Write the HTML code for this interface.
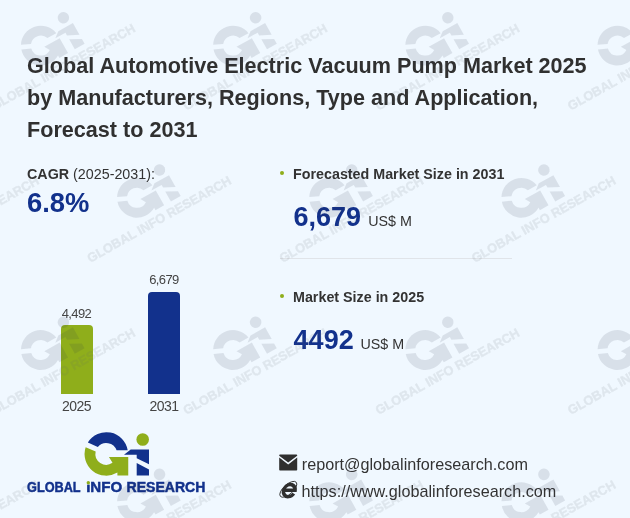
<!DOCTYPE html>
<html><head><meta charset="utf-8">
<style>
html,body{margin:0;padding:0}
body{width:630px;height:518px;overflow:hidden;background:#f0f8ff;font-family:"Liberation Sans",Arial,sans-serif;position:relative;color:#333}
.abs{position:absolute;white-space:nowrap}
#title{left:27px;top:50px;font-size:21.6px;font-weight:bold;line-height:32.2px;color:#303030}
.lbl{font-size:14.3px;color:#333}
.big{font-size:27px;font-weight:bold;color:#12318c}
.unit{font-size:14.3px;color:#333}
.bullet{width:4.4px;height:4.4px;border-radius:50%;background:#8fae1b}
.ct{font-size:16.2px;color:#333}
.bar{position:absolute;border-radius:4px 4px 0 0}
.bl{font-size:13px;color:#444;text-align:center;width:60px;letter-spacing:-0.6px}
svg{position:absolute;left:0;top:0}
#logo .b{fill:#12318c} #logo .g{fill:#8fae1b}
.wmk path,.wmk circle{fill:#28304a} .wmk text{fill:#5c646b;stroke:#5c646b;stroke-width:0.5px}
</style></head><body>
<div id="title" class="abs">Global Automotive Electric Vacuum Pump Market 2025<br>by Manufacturers, Regions, Type and Application,<br>Forecast to 2031</div>

<div id="cagr" class="abs lbl" style="left:27px;top:166px"><b>CAGR</b> (2025-2031):</div>
<div id="cagrv" class="abs big" style="left:27px;top:187px;font-size:27.4px">6.8%</div>

<div class="abs bullet" style="left:279.5px;top:170.6px"></div>
<div id="f1" class="abs lbl" style="left:293px;top:166px"><b>Forecasted Market Size in 2031</b></div>
<div id="v1" class="abs big" style="left:293.4px;top:202.2px">6,679</div>
<div id="u1" class="abs unit" style="left:368.2px;top:213px">US$ M</div>
<div id="hr" class="abs" style="left:280px;top:258px;width:232px;height:1px;background:#e0e4e9"></div>

<div class="abs bullet" style="left:279.5px;top:293.6px"></div>
<div id="f2" class="abs lbl" style="left:293px;top:289px"><b>Market Size in 2025</b></div>
<div id="v2" class="abs big" style="left:293.6px;top:324.6px">4492</div>
<div id="u2" class="abs unit" style="left:360.5px;top:336px">US$ M</div>

<div id="bar1" class="bar" style="left:60.5px;top:325px;width:32px;height:69px;background:#8fae1b"></div>
<div id="bar2" class="bar" style="left:148px;top:291.5px;width:32.4px;height:102.5px;background:#12318c"></div>
<div id="bl1" class="abs bl" style="left:46.5px;top:306px">4,492</div>
<div id="bl2" class="abs bl" style="left:134px;top:272px">6,679</div>
<div id="bx1" class="abs bl" style="left:46.5px;top:398px;font-size:14px;letter-spacing:-0.55px">2025</div>
<div id="bx2" class="abs bl" style="left:134px;top:398px;font-size:14px;letter-spacing:-0.55px">2031</div>

<svg id="logo" width="630" height="518" viewBox="0 0 630 518">
<g transform="translate(80,428)">
<path class="b" d="M7.84,14.5 A21.7,21.7 0 0 1 47.7,22.3 L36.6,22.3 A10.9,10.9 0 0 0 17.81,19.07 Z"/>
<path class="g" d="M5.65,19.23 A21.7,21.7 0 0 0 37.4,44.6 L37.4,47.6 L48.25,47.6 L48.25,28.95 L28.95,28.95 L32.5,34.86 A10.9,10.9 0 0 1 15.65,23.56 Z"/>
<path class="b" d="M50.7,21.5 L69,21.5 L69,36.2 L56.7,30.2 L56.7,26.8 L44,26.8 Z"/>
<path class="b" d="M56.7,35 L69,41.6 L69,47.6 L56.7,47.6 Z"/>
<circle class="g" cx="62.7" cy="11.5" r="6.3"/>
</g>

<g fill="#2f2f2f">
<path d="M280,454.4 h16.4 a0.8,0.8 0 0 1 0.8,0.8 v0.5 l-9,6.9 l-9,-6.9 v-0.5 a0.8,0.8 0 0 1 0.8,-0.8 Z"/>
<path d="M279.2,457.6 l9,6.9 l9,-6.9 v12.2 a0.8,0.8 0 0 1 -0.8,0.8 h-16.4 a0.8,0.8 0 0 1 -0.8,-0.8 Z"/>
</g>
<g transform="translate(289.4,489.9) skewX(-9)" fill="none" stroke="#2f2f2f">
<path d="M5.0,3.8 A5.8,6.1 0 1 1 5.8,0.4 L-5.2,0.4" stroke-width="3.4"/>
</g>
<ellipse cx="288.3" cy="489.3" rx="10.6" ry="4.8" transform="rotate(-42 288.3 489.3)" fill="none" stroke="#2f2f2f" stroke-width="0.9"/>
<text y="491.6" font-size="14" font-weight="bold" fill="#12318c" stroke="#12318c" stroke-width="0.45"><tspan x="27" textLength="53.4" lengthAdjust="spacingAndGlyphs">GLOBAL</tspan> <tspan x="86.2" textLength="36" lengthAdjust="spacingAndGlyphs">INFO</tspan> <tspan x="126.6" textLength="78.8" lengthAdjust="spacingAndGlyphs">RESEARCH</tspan></text>
<rect x="85.5" y="480" width="5.5" height="4.6" fill="#f0f8ff"/><circle cx="88.3" cy="482.7" r="1.7" fill="#8fae1b"/>
</svg>

<div id="c1" class="abs ct" style="left:301.8px;top:455.3px">report@globalinforesearch.com</div>
<div id="c2" class="abs ct" style="left:301.6px;top:482.3px">https://www.globalinforesearch.com</div>

<svg id="wm" width="630" height="518" viewBox="0 0 630 518" style="opacity:0.115">
<g class="wmk" transform="translate(-199.4,108.3) rotate(-29.3) scale(0.915)"><g transform="translate(53,-60)"><path class="b" d="M7.84,14.5 A21.7,21.7 0 0 1 47.7,22.3 L36.6,22.3 A10.9,10.9 0 0 0 17.81,19.07 Z"/><path class="g" d="M5.65,19.23 A21.7,21.7 0 0 0 37.4,44.6 L37.4,47.6 L48.25,47.6 L48.25,28.95 L28.95,28.95 L32.5,34.86 A10.9,10.9 0 0 1 15.65,23.56 Z"/><path class="b" d="M50.7,21.5 L69,21.5 L69,36.2 L56.7,30.2 L56.7,26.8 L44,26.8 Z"/><path class="b" d="M56.7,35 L69,41.6 L69,47.6 L56.7,47.6 Z"/><circle class="g" cx="62.7" cy="11.5" r="6.3"/></g><text x="0" y="3" font-size="14" font-weight="bold" textLength="178" lengthAdjust="spacingAndGlyphs">GLOBAL INFO RESEARCH</text></g>
<g class="wmk" transform="translate(-7.2,108.3) rotate(-29.3) scale(0.915)"><g transform="translate(53,-60)"><path class="b" d="M7.84,14.5 A21.7,21.7 0 0 1 47.7,22.3 L36.6,22.3 A10.9,10.9 0 0 0 17.81,19.07 Z"/><path class="g" d="M5.65,19.23 A21.7,21.7 0 0 0 37.4,44.6 L37.4,47.6 L48.25,47.6 L48.25,28.95 L28.95,28.95 L32.5,34.86 A10.9,10.9 0 0 1 15.65,23.56 Z"/><path class="b" d="M50.7,21.5 L69,21.5 L69,36.2 L56.7,30.2 L56.7,26.8 L44,26.8 Z"/><path class="b" d="M56.7,35 L69,41.6 L69,47.6 L56.7,47.6 Z"/><circle class="g" cx="62.7" cy="11.5" r="6.3"/></g><text x="0" y="3" font-size="14" font-weight="bold" textLength="178" lengthAdjust="spacingAndGlyphs">GLOBAL INFO RESEARCH</text></g>
<g class="wmk" transform="translate(185.0,108.3) rotate(-29.3) scale(0.915)"><g transform="translate(53,-60)"><path class="b" d="M7.84,14.5 A21.7,21.7 0 0 1 47.7,22.3 L36.6,22.3 A10.9,10.9 0 0 0 17.81,19.07 Z"/><path class="g" d="M5.65,19.23 A21.7,21.7 0 0 0 37.4,44.6 L37.4,47.6 L48.25,47.6 L48.25,28.95 L28.95,28.95 L32.5,34.86 A10.9,10.9 0 0 1 15.65,23.56 Z"/><path class="b" d="M50.7,21.5 L69,21.5 L69,36.2 L56.7,30.2 L56.7,26.8 L44,26.8 Z"/><path class="b" d="M56.7,35 L69,41.6 L69,47.6 L56.7,47.6 Z"/><circle class="g" cx="62.7" cy="11.5" r="6.3"/></g><text x="0" y="3" font-size="14" font-weight="bold" textLength="178" lengthAdjust="spacingAndGlyphs">GLOBAL INFO RESEARCH</text></g>
<g class="wmk" transform="translate(377.2,108.3) rotate(-29.3) scale(0.915)"><g transform="translate(53,-60)"><path class="b" d="M7.84,14.5 A21.7,21.7 0 0 1 47.7,22.3 L36.6,22.3 A10.9,10.9 0 0 0 17.81,19.07 Z"/><path class="g" d="M5.65,19.23 A21.7,21.7 0 0 0 37.4,44.6 L37.4,47.6 L48.25,47.6 L48.25,28.95 L28.95,28.95 L32.5,34.86 A10.9,10.9 0 0 1 15.65,23.56 Z"/><path class="b" d="M50.7,21.5 L69,21.5 L69,36.2 L56.7,30.2 L56.7,26.8 L44,26.8 Z"/><path class="b" d="M56.7,35 L69,41.6 L69,47.6 L56.7,47.6 Z"/><circle class="g" cx="62.7" cy="11.5" r="6.3"/></g><text x="0" y="3" font-size="14" font-weight="bold" textLength="178" lengthAdjust="spacingAndGlyphs">GLOBAL INFO RESEARCH</text></g>
<g class="wmk" transform="translate(569.4,108.3) rotate(-29.3) scale(0.915)"><g transform="translate(53,-60)"><path class="b" d="M7.84,14.5 A21.7,21.7 0 0 1 47.7,22.3 L36.6,22.3 A10.9,10.9 0 0 0 17.81,19.07 Z"/><path class="g" d="M5.65,19.23 A21.7,21.7 0 0 0 37.4,44.6 L37.4,47.6 L48.25,47.6 L48.25,28.95 L28.95,28.95 L32.5,34.86 A10.9,10.9 0 0 1 15.65,23.56 Z"/><path class="b" d="M50.7,21.5 L69,21.5 L69,36.2 L56.7,30.2 L56.7,26.8 L44,26.8 Z"/><path class="b" d="M56.7,35 L69,41.6 L69,47.6 L56.7,47.6 Z"/><circle class="g" cx="62.7" cy="11.5" r="6.3"/></g><text x="0" y="3" font-size="14" font-weight="bold" textLength="178" lengthAdjust="spacingAndGlyphs">GLOBAL INFO RESEARCH</text></g>
<g class="wmk" transform="translate(-103.3,260.5) rotate(-29.3) scale(0.915)"><g transform="translate(53,-60)"><path class="b" d="M7.84,14.5 A21.7,21.7 0 0 1 47.7,22.3 L36.6,22.3 A10.9,10.9 0 0 0 17.81,19.07 Z"/><path class="g" d="M5.65,19.23 A21.7,21.7 0 0 0 37.4,44.6 L37.4,47.6 L48.25,47.6 L48.25,28.95 L28.95,28.95 L32.5,34.86 A10.9,10.9 0 0 1 15.65,23.56 Z"/><path class="b" d="M50.7,21.5 L69,21.5 L69,36.2 L56.7,30.2 L56.7,26.8 L44,26.8 Z"/><path class="b" d="M56.7,35 L69,41.6 L69,47.6 L56.7,47.6 Z"/><circle class="g" cx="62.7" cy="11.5" r="6.3"/></g><text x="0" y="3" font-size="14" font-weight="bold" textLength="178" lengthAdjust="spacingAndGlyphs">GLOBAL INFO RESEARCH</text></g>
<g class="wmk" transform="translate(88.9,260.5) rotate(-29.3) scale(0.915)"><g transform="translate(53,-60)"><path class="b" d="M7.84,14.5 A21.7,21.7 0 0 1 47.7,22.3 L36.6,22.3 A10.9,10.9 0 0 0 17.81,19.07 Z"/><path class="g" d="M5.65,19.23 A21.7,21.7 0 0 0 37.4,44.6 L37.4,47.6 L48.25,47.6 L48.25,28.95 L28.95,28.95 L32.5,34.86 A10.9,10.9 0 0 1 15.65,23.56 Z"/><path class="b" d="M50.7,21.5 L69,21.5 L69,36.2 L56.7,30.2 L56.7,26.8 L44,26.8 Z"/><path class="b" d="M56.7,35 L69,41.6 L69,47.6 L56.7,47.6 Z"/><circle class="g" cx="62.7" cy="11.5" r="6.3"/></g><text x="0" y="3" font-size="14" font-weight="bold" textLength="178" lengthAdjust="spacingAndGlyphs">GLOBAL INFO RESEARCH</text></g>
<g class="wmk" transform="translate(281.1,260.5) rotate(-29.3) scale(0.915)"><g transform="translate(53,-60)"><path class="b" d="M7.84,14.5 A21.7,21.7 0 0 1 47.7,22.3 L36.6,22.3 A10.9,10.9 0 0 0 17.81,19.07 Z"/><path class="g" d="M5.65,19.23 A21.7,21.7 0 0 0 37.4,44.6 L37.4,47.6 L48.25,47.6 L48.25,28.95 L28.95,28.95 L32.5,34.86 A10.9,10.9 0 0 1 15.65,23.56 Z"/><path class="b" d="M50.7,21.5 L69,21.5 L69,36.2 L56.7,30.2 L56.7,26.8 L44,26.8 Z"/><path class="b" d="M56.7,35 L69,41.6 L69,47.6 L56.7,47.6 Z"/><circle class="g" cx="62.7" cy="11.5" r="6.3"/></g><text x="0" y="3" font-size="14" font-weight="bold" textLength="178" lengthAdjust="spacingAndGlyphs">GLOBAL INFO RESEARCH</text></g>
<g class="wmk" transform="translate(473.3,260.5) rotate(-29.3) scale(0.915)"><g transform="translate(53,-60)"><path class="b" d="M7.84,14.5 A21.7,21.7 0 0 1 47.7,22.3 L36.6,22.3 A10.9,10.9 0 0 0 17.81,19.07 Z"/><path class="g" d="M5.65,19.23 A21.7,21.7 0 0 0 37.4,44.6 L37.4,47.6 L48.25,47.6 L48.25,28.95 L28.95,28.95 L32.5,34.86 A10.9,10.9 0 0 1 15.65,23.56 Z"/><path class="b" d="M50.7,21.5 L69,21.5 L69,36.2 L56.7,30.2 L56.7,26.8 L44,26.8 Z"/><path class="b" d="M56.7,35 L69,41.6 L69,47.6 L56.7,47.6 Z"/><circle class="g" cx="62.7" cy="11.5" r="6.3"/></g><text x="0" y="3" font-size="14" font-weight="bold" textLength="178" lengthAdjust="spacingAndGlyphs">GLOBAL INFO RESEARCH</text></g>
<g class="wmk" transform="translate(-199.4,412.7) rotate(-29.3) scale(0.915)"><g transform="translate(53,-60)"><path class="b" d="M7.84,14.5 A21.7,21.7 0 0 1 47.7,22.3 L36.6,22.3 A10.9,10.9 0 0 0 17.81,19.07 Z"/><path class="g" d="M5.65,19.23 A21.7,21.7 0 0 0 37.4,44.6 L37.4,47.6 L48.25,47.6 L48.25,28.95 L28.95,28.95 L32.5,34.86 A10.9,10.9 0 0 1 15.65,23.56 Z"/><path class="b" d="M50.7,21.5 L69,21.5 L69,36.2 L56.7,30.2 L56.7,26.8 L44,26.8 Z"/><path class="b" d="M56.7,35 L69,41.6 L69,47.6 L56.7,47.6 Z"/><circle class="g" cx="62.7" cy="11.5" r="6.3"/></g><text x="0" y="3" font-size="14" font-weight="bold" textLength="178" lengthAdjust="spacingAndGlyphs">GLOBAL INFO RESEARCH</text></g>
<g class="wmk" transform="translate(-7.2,412.7) rotate(-29.3) scale(0.915)"><g transform="translate(53,-60)"><path class="b" d="M7.84,14.5 A21.7,21.7 0 0 1 47.7,22.3 L36.6,22.3 A10.9,10.9 0 0 0 17.81,19.07 Z"/><path class="g" d="M5.65,19.23 A21.7,21.7 0 0 0 37.4,44.6 L37.4,47.6 L48.25,47.6 L48.25,28.95 L28.95,28.95 L32.5,34.86 A10.9,10.9 0 0 1 15.65,23.56 Z"/><path class="b" d="M50.7,21.5 L69,21.5 L69,36.2 L56.7,30.2 L56.7,26.8 L44,26.8 Z"/><path class="b" d="M56.7,35 L69,41.6 L69,47.6 L56.7,47.6 Z"/><circle class="g" cx="62.7" cy="11.5" r="6.3"/></g><text x="0" y="3" font-size="14" font-weight="bold" textLength="178" lengthAdjust="spacingAndGlyphs">GLOBAL INFO RESEARCH</text></g>
<g class="wmk" transform="translate(185.0,412.7) rotate(-29.3) scale(0.915)"><g transform="translate(53,-60)"><path class="b" d="M7.84,14.5 A21.7,21.7 0 0 1 47.7,22.3 L36.6,22.3 A10.9,10.9 0 0 0 17.81,19.07 Z"/><path class="g" d="M5.65,19.23 A21.7,21.7 0 0 0 37.4,44.6 L37.4,47.6 L48.25,47.6 L48.25,28.95 L28.95,28.95 L32.5,34.86 A10.9,10.9 0 0 1 15.65,23.56 Z"/><path class="b" d="M50.7,21.5 L69,21.5 L69,36.2 L56.7,30.2 L56.7,26.8 L44,26.8 Z"/><path class="b" d="M56.7,35 L69,41.6 L69,47.6 L56.7,47.6 Z"/><circle class="g" cx="62.7" cy="11.5" r="6.3"/></g><text x="0" y="3" font-size="14" font-weight="bold" textLength="178" lengthAdjust="spacingAndGlyphs">GLOBAL INFO RESEARCH</text></g>
<g class="wmk" transform="translate(377.2,412.7) rotate(-29.3) scale(0.915)"><g transform="translate(53,-60)"><path class="b" d="M7.84,14.5 A21.7,21.7 0 0 1 47.7,22.3 L36.6,22.3 A10.9,10.9 0 0 0 17.81,19.07 Z"/><path class="g" d="M5.65,19.23 A21.7,21.7 0 0 0 37.4,44.6 L37.4,47.6 L48.25,47.6 L48.25,28.95 L28.95,28.95 L32.5,34.86 A10.9,10.9 0 0 1 15.65,23.56 Z"/><path class="b" d="M50.7,21.5 L69,21.5 L69,36.2 L56.7,30.2 L56.7,26.8 L44,26.8 Z"/><path class="b" d="M56.7,35 L69,41.6 L69,47.6 L56.7,47.6 Z"/><circle class="g" cx="62.7" cy="11.5" r="6.3"/></g><text x="0" y="3" font-size="14" font-weight="bold" textLength="178" lengthAdjust="spacingAndGlyphs">GLOBAL INFO RESEARCH</text></g>
<g class="wmk" transform="translate(569.4,412.7) rotate(-29.3) scale(0.915)"><g transform="translate(53,-60)"><path class="b" d="M7.84,14.5 A21.7,21.7 0 0 1 47.7,22.3 L36.6,22.3 A10.9,10.9 0 0 0 17.81,19.07 Z"/><path class="g" d="M5.65,19.23 A21.7,21.7 0 0 0 37.4,44.6 L37.4,47.6 L48.25,47.6 L48.25,28.95 L28.95,28.95 L32.5,34.86 A10.9,10.9 0 0 1 15.65,23.56 Z"/><path class="b" d="M50.7,21.5 L69,21.5 L69,36.2 L56.7,30.2 L56.7,26.8 L44,26.8 Z"/><path class="b" d="M56.7,35 L69,41.6 L69,47.6 L56.7,47.6 Z"/><circle class="g" cx="62.7" cy="11.5" r="6.3"/></g><text x="0" y="3" font-size="14" font-weight="bold" textLength="178" lengthAdjust="spacingAndGlyphs">GLOBAL INFO RESEARCH</text></g>
<g class="wmk" transform="translate(-103.3,564.9) rotate(-29.3) scale(0.915)"><g transform="translate(53,-60)"><path class="b" d="M7.84,14.5 A21.7,21.7 0 0 1 47.7,22.3 L36.6,22.3 A10.9,10.9 0 0 0 17.81,19.07 Z"/><path class="g" d="M5.65,19.23 A21.7,21.7 0 0 0 37.4,44.6 L37.4,47.6 L48.25,47.6 L48.25,28.95 L28.95,28.95 L32.5,34.86 A10.9,10.9 0 0 1 15.65,23.56 Z"/><path class="b" d="M50.7,21.5 L69,21.5 L69,36.2 L56.7,30.2 L56.7,26.8 L44,26.8 Z"/><path class="b" d="M56.7,35 L69,41.6 L69,47.6 L56.7,47.6 Z"/><circle class="g" cx="62.7" cy="11.5" r="6.3"/></g><text x="0" y="3" font-size="14" font-weight="bold" textLength="178" lengthAdjust="spacingAndGlyphs">GLOBAL INFO RESEARCH</text></g>
<g class="wmk" transform="translate(88.9,564.9) rotate(-29.3) scale(0.915)"><g transform="translate(53,-60)"><path class="b" d="M7.84,14.5 A21.7,21.7 0 0 1 47.7,22.3 L36.6,22.3 A10.9,10.9 0 0 0 17.81,19.07 Z"/><path class="g" d="M5.65,19.23 A21.7,21.7 0 0 0 37.4,44.6 L37.4,47.6 L48.25,47.6 L48.25,28.95 L28.95,28.95 L32.5,34.86 A10.9,10.9 0 0 1 15.65,23.56 Z"/><path class="b" d="M50.7,21.5 L69,21.5 L69,36.2 L56.7,30.2 L56.7,26.8 L44,26.8 Z"/><path class="b" d="M56.7,35 L69,41.6 L69,47.6 L56.7,47.6 Z"/><circle class="g" cx="62.7" cy="11.5" r="6.3"/></g><text x="0" y="3" font-size="14" font-weight="bold" textLength="178" lengthAdjust="spacingAndGlyphs">GLOBAL INFO RESEARCH</text></g>
<g class="wmk" transform="translate(281.1,564.9) rotate(-29.3) scale(0.915)"><g transform="translate(53,-60)"><path class="b" d="M7.84,14.5 A21.7,21.7 0 0 1 47.7,22.3 L36.6,22.3 A10.9,10.9 0 0 0 17.81,19.07 Z"/><path class="g" d="M5.65,19.23 A21.7,21.7 0 0 0 37.4,44.6 L37.4,47.6 L48.25,47.6 L48.25,28.95 L28.95,28.95 L32.5,34.86 A10.9,10.9 0 0 1 15.65,23.56 Z"/><path class="b" d="M50.7,21.5 L69,21.5 L69,36.2 L56.7,30.2 L56.7,26.8 L44,26.8 Z"/><path class="b" d="M56.7,35 L69,41.6 L69,47.6 L56.7,47.6 Z"/><circle class="g" cx="62.7" cy="11.5" r="6.3"/></g><text x="0" y="3" font-size="14" font-weight="bold" textLength="178" lengthAdjust="spacingAndGlyphs">GLOBAL INFO RESEARCH</text></g>
<g class="wmk" transform="translate(473.3,564.9) rotate(-29.3) scale(0.915)"><g transform="translate(53,-60)"><path class="b" d="M7.84,14.5 A21.7,21.7 0 0 1 47.7,22.3 L36.6,22.3 A10.9,10.9 0 0 0 17.81,19.07 Z"/><path class="g" d="M5.65,19.23 A21.7,21.7 0 0 0 37.4,44.6 L37.4,47.6 L48.25,47.6 L48.25,28.95 L28.95,28.95 L32.5,34.86 A10.9,10.9 0 0 1 15.65,23.56 Z"/><path class="b" d="M50.7,21.5 L69,21.5 L69,36.2 L56.7,30.2 L56.7,26.8 L44,26.8 Z"/><path class="b" d="M56.7,35 L69,41.6 L69,47.6 L56.7,47.6 Z"/><circle class="g" cx="62.7" cy="11.5" r="6.3"/></g><text x="0" y="3" font-size="14" font-weight="bold" textLength="178" lengthAdjust="spacingAndGlyphs">GLOBAL INFO RESEARCH</text></g>
</svg>
</body></html>
